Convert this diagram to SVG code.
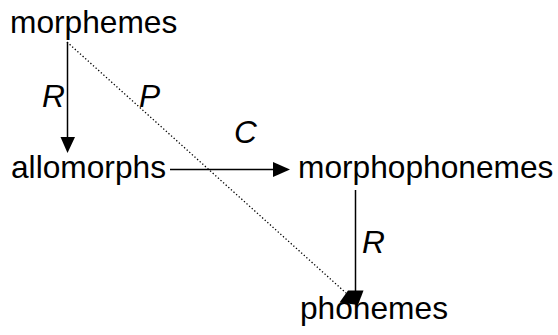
<svg xmlns="http://www.w3.org/2000/svg" width="558" height="335" viewBox="0 0 558 335">
  <style>
    .lbl { font-family: "Liberation Sans", Arial, sans-serif; font-size: 31.7px; fill: #000; }
    .rel { font-family: "Liberation Sans", Arial, sans-serif; font-size: 31.7px; font-style: italic; fill: #000; }
    .line { stroke: #000; stroke-width: 1.5; fill: none; }
    .dots { stroke: #000; stroke-width: 1.3; stroke-dasharray: 1.3 2.2; fill: none; }
  </style>
  <rect width="558" height="335" fill="#fff"/>

  <g id="connectors">
    <!-- morphemes -> allomorphs (R) -->
    <line class="line" x1="67.5" y1="42" x2="67.5" y2="138"/>
    <polygon points="60.5,137 75,137 67.5,153" fill="#000"/>
    <!-- allomorphs -> morphophonemes (C) -->
    <line class="line" x1="170" y1="169.5" x2="274" y2="169.5"/>
    <polygon points="273,162 290,169.5 273,177" fill="#000"/>
    <!-- morphophonemes -> phonemes (R) -->
    <line class="line" x1="355.5" y1="190" x2="355.5" y2="292"/>
    <!-- morphemes -> phonemes (P), dotted -->
    <line class="dots" x1="67" y1="42" x2="346" y2="293"/>
    <!-- merged heads at phonemes -->
    <polygon points="348,290.5 363.5,290.5 358,305 339.5,302.5" fill="#000"/>
  </g>

  <g id="rel-labels">
    <text class="rel" x="42" y="107">R</text>
    <text class="rel" x="139" y="107">P</text>
    <text class="rel" x="234" y="143">C</text>
    <text class="rel" x="362" y="253">R</text>
  </g>

  <g id="morphemes"><text class="lbl" x="10" y="33">morphemes</text></g>
  <g id="allomorphs"><text class="lbl" x="11" y="178">allomorphs</text></g>
  <g id="morphophonemes"><text class="lbl" x="298" y="178">morphophonemes</text></g>
  <g id="phonemes"><text class="lbl" x="300" y="319">phonemes</text></g>
</svg>
